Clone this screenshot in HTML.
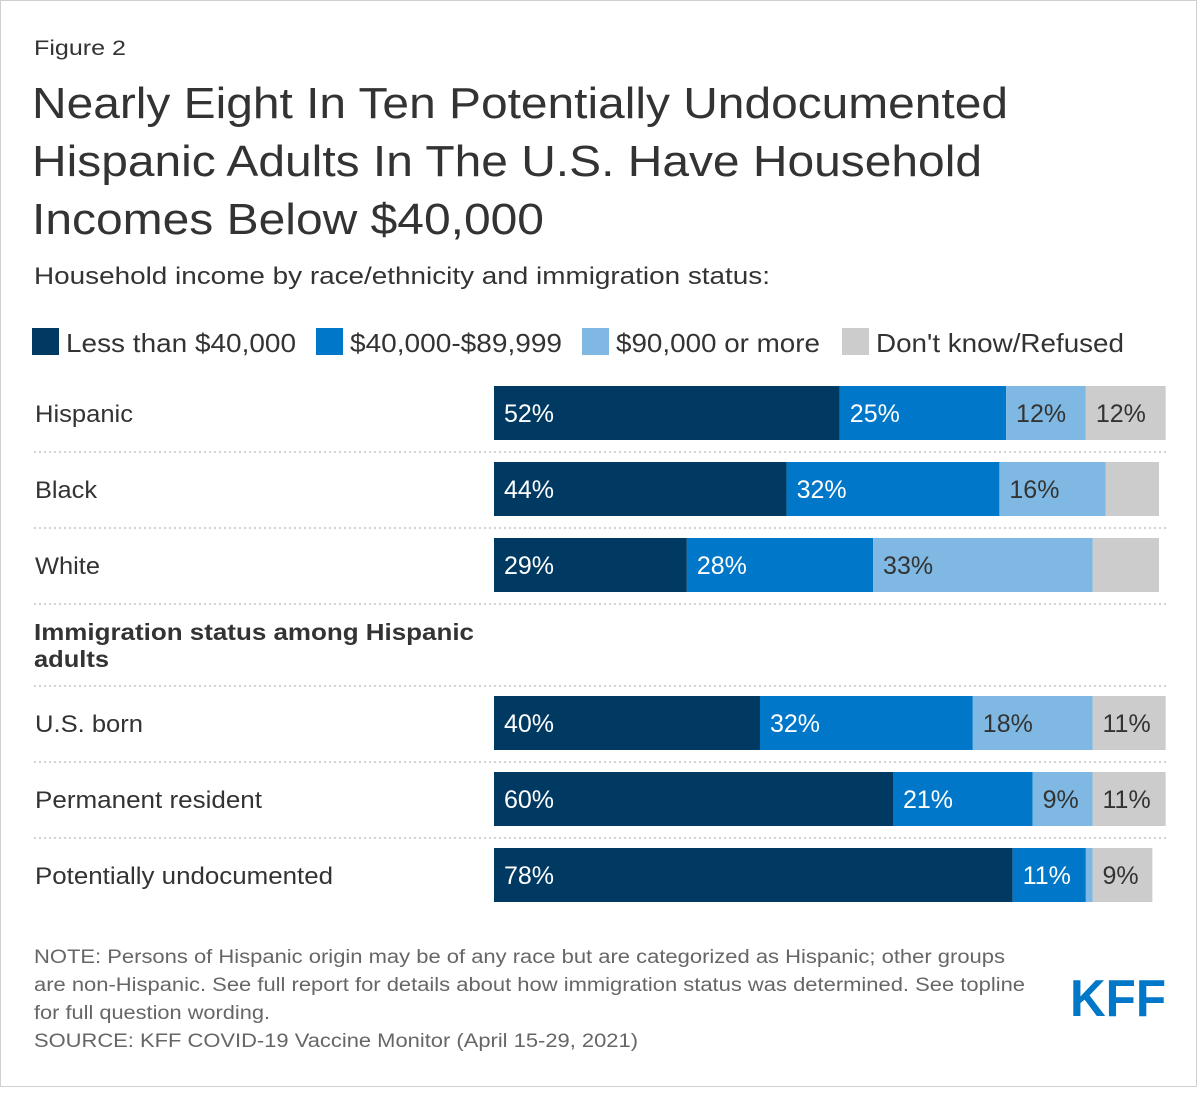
<!DOCTYPE html>
<html><head><meta charset="utf-8"><style>
html,body{margin:0;padding:0;background:#fff;}
body{width:1200px;height:1088px;overflow:hidden;font-family:"Liberation Sans",Arial,sans-serif;}
</style></head><body>
<svg id="chart" width="1200" height="1088" xmlns="http://www.w3.org/2000/svg" font-family="Liberation Sans, Arial, sans-serif">
<rect x="0.5" y="0.5" width="1196" height="1086" fill="#fff" stroke="#d0d0d0"/>
<text x="34" y="55" font-size="21" fill="#333" textLength="92" lengthAdjust="spacingAndGlyphs">Figure 2</text>
<g font-size="44" fill="#333">
<text x="32" y="118" textLength="976" lengthAdjust="spacingAndGlyphs">Nearly Eight In Ten Potentially Undocumented</text>
<text x="32" y="176" textLength="950" lengthAdjust="spacingAndGlyphs">Hispanic Adults In The U.S. Have Household</text>
<text x="32" y="234" textLength="512" lengthAdjust="spacingAndGlyphs">Incomes Below $40,000</text>
</g>
<text x="34" y="284" font-size="24" fill="#333" textLength="736" lengthAdjust="spacingAndGlyphs">Household income by race/ethnicity and immigration status:</text>
<g id="legend" font-size="26" fill="#333"></g>
<g id="rows"></g>
<text x="34" y="640" font-size="23" font-weight="bold" fill="#333" textLength="440" lengthAdjust="spacingAndGlyphs">Immigration status among Hispanic</text>
<text x="34" y="667" font-size="23" font-weight="bold" fill="#333" textLength="75" lengthAdjust="spacingAndGlyphs">adults</text>
<g font-size="19" fill="#666">
<text x="34" y="963" textLength="971" lengthAdjust="spacingAndGlyphs">NOTE: Persons of Hispanic origin may be of any race but are categorized as Hispanic; other groups</text>
<text x="34" y="991" textLength="991" lengthAdjust="spacingAndGlyphs">are non-Hispanic. See full report for details about how immigration status was determined. See topline</text>
<text x="34" y="1019" textLength="236" lengthAdjust="spacingAndGlyphs">for full question wording.</text>
<text x="34" y="1047" textLength="604" lengthAdjust="spacingAndGlyphs">SOURCE: KFF COVID-19 Vaccine Monitor (April 15-29, 2021)</text>
</g>
<text x="1070" y="1016" font-size="52" font-weight="bold" fill="#0077c8" textLength="96" lengthAdjust="spacingAndGlyphs">KFF</text>
</svg>
<script>
const categories=["Hispanic","Black","White","U.S. born","Permanent resident","Potentially undocumented"];
const seriesNames=["Less than $40,000","$40,000-$89,999","$90,000 or more","Don't know/Refused"];
const lessThan40k=[52,44,29,40,60,78];
const mid40to90k=[25,32,28,32,21,11];
const over90k=[12,16,33,18,9,1];
const dontKnow=[12,8,10,11,11,9];
const showLabel=[[1,1,1,1],[1,1,1,0],[1,1,1,0],[1,1,1,1],[1,1,1,1],[1,1,0,1]];
const colors=["#003a63","#0077c8","#7fb9e3","#cccccc"];
const textColors=["#fff","#fff","#333","#333"];
const catWidths=[98,62,65,108,227,298];
const legWidths=[230,212,204,248];
const NS="http://www.w3.org/2000/svg";
const x0=494, pxPer=6.65;
const xs=v=>v*pxPer;
const rowTops=[386,462,538,696,772,848];
const barH=54;
const svgRows=document.getElementById('rows');
function mk(tag,attrs){const e=document.createElementNS(NS,tag);for(const k in attrs)e.setAttribute(k,attrs[k]);return e;}
[452,528,604,686,762,838].forEach(y=>{
 const l=mk('line',{x1:34,x2:1166,y1:y,y2:y,stroke:'#bbb','stroke-width':1.2,'stroke-dasharray':'2,3'});
 
 
 svgRows.appendChild(l);
});
const series=[lessThan40k,mid40to90k,over90k,dontKnow];
categories.forEach((c,i)=>{
 const y=rowTops[i];
 const t=mk('text',{x:35,y:y+barH/2+9,'font-size':24,fill:'#333',textLength:catWidths[i],lengthAdjust:'spacingAndGlyphs'});
 t.textContent=c;
 
 
 svgRows.appendChild(t);
 let x=x0;
 series.forEach((s,j)=>{
  const w=xs(s[i]);
  const r=mk('rect',{x:x,y:y,width:w,height:barH,fill:colors[j]});
  
  
  svgRows.appendChild(r);
  if(showLabel[i][j]){
   const lt=mk('text',{x:x+10,y:y+barH/2+9,'font-size':25,fill:textColors[j]});
   lt.textContent=s[i]+'%';
   
   
   svgRows.appendChild(lt);
  }
  x+=w;
 });
});
const lg=document.getElementById('legend');
const legTextX=[66,350,616,876];
seriesNames.forEach((n,j)=>{
 const r=mk('rect',{x:legTextX[j]-34,y:328,width:27,height:27,fill:colors[j]});
 
 
 lg.appendChild(r);
 const t=mk('text',{x:legTextX[j],y:352,textLength:legWidths[j],lengthAdjust:'spacingAndGlyphs'});
 t.textContent=n;
 
 
 lg.appendChild(t);
});
</script>
</body></html>
